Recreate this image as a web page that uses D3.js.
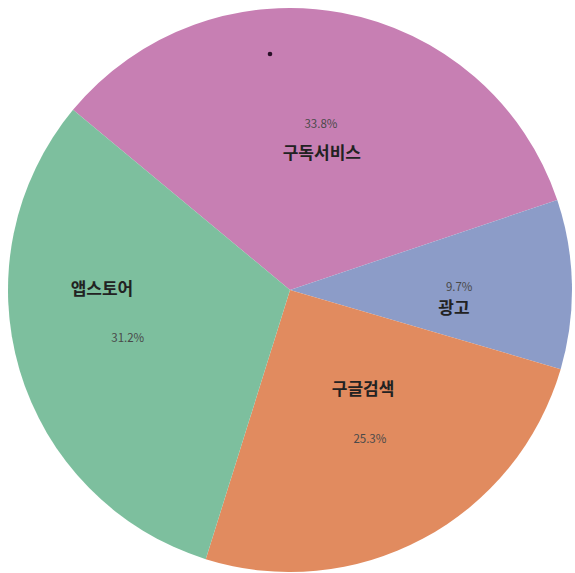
<!DOCTYPE html>
<html>
<head>
<meta charset="utf-8">
<script src="https://cdn.jsdelivr.net/npm/d3@7"></script>
<style>
  body { margin: 0; background: #fff; }
  svg { display: block; }
</style>
</head>
<body>
<svg id="chart" width="575" height="573"></svg>
<script>
// 매출 비중
const categories = ["구독서비스", "광고", "구글검색", "앱스토어"];
const values = [33.8, 9.7, 25.3, 31.2];
const colors = ["#c77fb3", "#8c9cc8", "#e18b5f", "#7dbf9e"];

const svg = d3.select("#chart");
const cx = 290, cy = 290, radius = 282;
const rad = Math.PI / 180;
const start = -50.3;

const g = svg.append("g").attr("transform", `translate(${cx},${cy})`);

const pie = d3.pie()
  .sort(null)
  .value(d => d.value)
  .startAngle(start * rad)
  .endAngle((360 + start) * rad);

const data = categories.map((c, i) => ({ name: c, value: values[i], color: colors[i] }));
const arcs = pie(data);

const arc = d3.arc().innerRadius(0).outerRadius(radius);

g.selectAll("path")
  .data(arcs)
  .enter().append("path")
  .attr("d", arc)
  .attr("fill", d => d.data.color);

// name labels are nudged off the middle of each wedge (radius factor, angle shift in deg)
const nameNudge = [[0.50, 2.5], [0.585, 7.4], [0.436, -8.3], [0.667, 16.8]];

function polar(r, a) {
  return [r * Math.sin(a), -r * Math.cos(a)];
}
const mid = d => (d.startAngle + d.endAngle) / 2;

const labelFont = "'Noto Sans CJK KR', 'Noto Sans', sans-serif";

g.selectAll("text.name")
  .data(arcs)
  .enter().append("text")
  .attr("class", "name")
  .attr("transform", (d, i) => {
    const [k, shift] = nameNudge[i];
    return `translate(${polar(radius * k, mid(d) + shift * rad)})`;
  })
  .attr("text-anchor", "middle")
  .attr("dy", "0.35em")
  .style("font-family", labelFont)
  .style("font-size", "17px")
  .style("font-weight", "bold")
  .style("fill", "#222")
  .text(d => d.data.name);

// percentages at 0.6 of the radius
g.selectAll("text.pct")
  .data(arcs)
  .enter().append("text")
  .attr("class", "pct")
  .attr("transform", d => `translate(${polar(radius * 0.6, mid(d))})`)
  .attr("text-anchor", "middle")
  .attr("dy", "0.35em")
  .style("font-family", labelFont)
  .style("font-size", "11.5px")
  .style("fill", "#4a4a4a")
  .text(d => d.data.value.toFixed(1) + "%");

// small dark dot near the top of the pink slice
svg.append("circle")
  .attr("cx", 270).attr("cy", 54).attr("r", 2.3)
  .attr("fill", "#2a1028");
</script>
</body>
</html>
